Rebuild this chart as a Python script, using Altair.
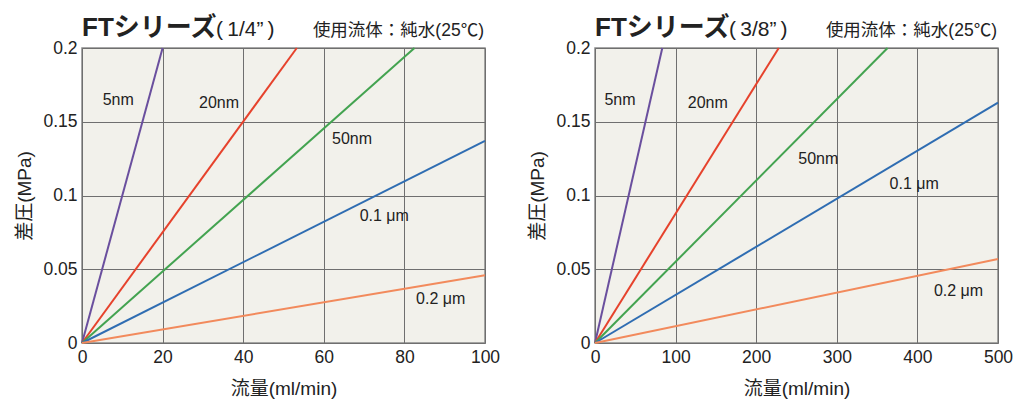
import altair as alt
import pandas as pd

FONT = "Liberation Sans, Noto Sans CJK JP, sans-serif"

series = ["5nm", "20nm", "50nm", "0.1 μm", "0.2 μm"]
colors = ["#6a4f9e", "#e6422c", "#43a350", "#2f6db2", "#f28a5c"]

# FT series (1/4") : end point of each straight line (flow ml/min, dP MPa)
flow_end_14 = [20, 53.3, 82.5, 100, 100]
dp_end_14 = [0.2, 0.2, 0.2, 0.137, 0.046]
label_x_14 = [9, 34, 67, 75, 89]
label_y_14 = [0.165, 0.163, 0.138, 0.086, 0.030]

# FT series (3/8")
flow_end_38 = [83.5, 228, 363, 500, 500]
dp_end_38 = [0.2, 0.2, 0.2, 0.163, 0.057]
label_x_38 = [31, 140, 277, 396, 451]
label_y_38 = [0.165, 0.163, 0.125, 0.108, 0.035]

titles = ["FTシリーズ", "FTシリーズ"]
subtitles = ["(\u20091/4\u201d\u2009)", "(\u20093/8\u201d\u2009)"]
fluid = "使用流体：純水(25℃)"
x_ticks_14 = [0, 20, 40, 60, 80, 100]
x_ticks_38 = [0, 100, 200, 300, 400, 500]
y_ticks = [0, 0.05, 0.1, 0.15, 0.2]

W, H = 403, 295


def panel(flow_end, dp_end, lx, ly, xticks, title, sub):
    rows = []
    for s, fx, fy in zip(series, flow_end, dp_end):
        rows.append({"s": s, "q": 0, "p": 0})
        rows.append({"s": s, "q": fx, "p": fy})
    lines_df = pd.DataFrame(rows)
    lab_df = pd.DataFrame({"s": series, "q": lx, "p": ly})

    xs = alt.Scale(domain=[xticks[0], xticks[-1]], nice=False, zero=True)
    ys = alt.Scale(domain=[0, 0.2], nice=False)
    cs = alt.Scale(domain=series, range=colors)

    xax = alt.Axis(values=xticks, title="流量(ml/min)", labelFontSize=17.5,
                   titleFontSize=19, labelPadding=5, titlePadding=14,
                   tickSize=0, domain=False, grid=True, labelFlush=False)
    yax = alt.Axis(values=y_ticks, title="差圧(MPa)", format="~g",
                   labelFontSize=17.5, titleFontSize=19, labelPadding=5,
                   titlePadding=8, tickSize=0, domain=False, grid=True,
                   minExtent=40, maxExtent=40)

    lines = alt.Chart(lines_df).mark_line(strokeWidth=2).encode(
        x=alt.X("q:Q", scale=xs, axis=xax),
        y=alt.Y("p:Q", scale=ys, axis=yax),
        color=alt.Color("s:N", scale=cs, legend=None),
        detail="s:N",
    )
    labels = alt.Chart(lab_df).mark_text(fontSize=16, color="#222", font=FONT).encode(
        x=alt.X("q:Q", scale=xs),
        y=alt.Y("p:Q", scale=ys),
        text="s:N",
    )
    t1 = alt.Chart(pd.DataFrame({"t": [title]})).mark_text(
        fontSize=26, fontWeight="bold", align="left", baseline="alphabetic",
        color="#222", font=FONT).encode(
        x=alt.value(0), y=alt.value(-12), text="t:N")
    t2 = alt.Chart(pd.DataFrame({"t": [sub]})).mark_text(
        fontSize=21, align="left", baseline="alphabetic", color="#222",
        font=FONT).encode(x=alt.value(134), y=alt.value(-12), text="t:N")
    t3 = alt.Chart(pd.DataFrame({"t": [fluid]})).mark_text(
        fontSize=17.5, align="right", baseline="alphabetic", color="#222",
        font=FONT).encode(x=alt.value(W - 1), y=alt.value(-12), text="t:N")
    return alt.layer(lines, labels, t1, t2, t3).properties(width=W, height=H)


left = panel(flow_end_14, dp_end_14, label_x_14, label_y_14, x_ticks_14,
             titles[0], subtitles[0])
right = panel(flow_end_38, dp_end_38, label_x_38, label_y_38, x_ticks_38,
              titles[1], subtitles[1])

chart = alt.hconcat(left, right, spacing=26).properties(
    padding={"left": 6, "top": 6, "right": 0, "bottom": 0}
).configure_view(
    fill="#f2f1eb", stroke="#8a8a8a", strokeWidth=1.5
).configure_axis(
    gridColor="#6f6f6f", gridOpacity=1, gridWidth=1,
    labelColor="#222", titleColor="#222", labelFont=FONT, titleFont=FONT,
    titleFontWeight="normal"
)

chart.save("out.html", embed_options={"renderer": "svg", "actions": False})
